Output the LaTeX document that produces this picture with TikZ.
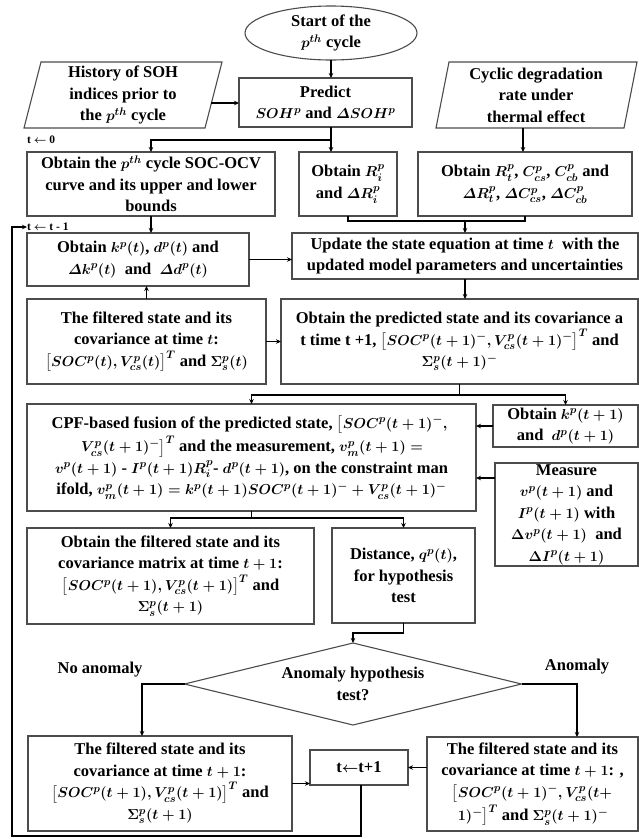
\documentclass[tikz,border=0pt]{standalone}
\usepackage{fontspec}
\setmainfont{Liberation Serif}
\usepackage{amsmath}
\usetikzlibrary{arrows.meta,shapes.geometric,calc}
\definecolor{bord}{gray}{0.3}
\DeclareMathSizes{16.5}{15.5}{10.5}{8}
\DeclareMathSizes{11.5}{11}{8}{6}
\newcommand\myfs{\fontsize{16.5}{21.5}\selectfont\bfseries\boldmath\lineskiplimit=2pt\lineskip=3pt\relax}
\newcommand\smallfs{\fontsize{11.5}{13}\selectfont\bfseries\boldmath}
\newcommand\dd{\varDelta}
\begin{document}
\begin{tikzpicture}[x=1pt,y=-1pt,
  every node/.style={font=\myfs},
  box/.style={draw=bord, line width=1.1pt, rectangle, inner sep=0pt, outer sep=0pt, align=center},
  txt/.style={inner sep=0pt, align=center},
  arr/.style={draw=black, line width=1.1pt, -{Stealth[length=5pt,width=4.5pt]}},
  ln/.style={draw=black, line width=1.1pt}]
\useasboundingbox (0,0) rectangle (639,839);

% top row
\node[box, ellipse, minimum width=172pt, minimum height=54pt] (start) at (331,33) {Start of the\\$p^{th}$ cycle};
\node[box, minimum width=173pt, minimum height=49pt] (predict) at (325.5,102.5) {Predict\\$SOH^p$ and $\dd SOH^p$};
\node[txt] (hist) at (123,95) {History of SOH\\indices prior to\\the $p^{th}$ cycle};
\draw[draw=bord, line width=1.1pt] (41,62) -- (222,62) -- (205,128) -- (24,128) -- cycle;
\coordinate (histE) at (211.4,103);
\node[txt] (cyc) at (536,95) {Cyclic degradation\\rate under\\thermal effect};
\draw[draw=bord, line width=1.1pt] (449,62) -- (637,62) -- (624,128) -- (436,128) -- cycle;
\coordinate (cycS) at (523,128);

% second row
\node[box, minimum width=248pt, minimum height=64pt] (soc) at (151,184) {Obtain the $p^{th}$ cycle SOC-OCV\\curve and its upper and lower\\bounds};
\node[box, minimum width=98pt, minimum height=64pt] (ri) at (348,184) {Obtain $R_i^p$\\and $\dd R_i^p$};
\node[box, minimum width=214pt, minimum height=64pt] (rt) at (525,184) {Obtain $R_t^p$, $C_{cs}^p$, $C_{cb}^p$ and\\$\dd R_t^p$, $\dd C_{cs}^p$, $\dd C_{cb}^p$};

\node[box, minimum width=346pt, minimum height=46pt] (upd) at (465,256) {Update the state equation at time $t$\ \ with the\\updated model parameters and uncertainties};
\node[box, minimum width=222pt, minimum height=53pt] (kb) at (138,259.5) {Obtain $k^p(t)$, $d^p(t)$ and\\$\dd k^p(t)$\ \ and\ \ $\dd d^p(t)$};

\node[box, minimum width=239pt, minimum height=85pt] (filt) at (146.5,341.5) {The filtered state and its\\covariance at time $t$:\\$\left[SOC^p(t), V_{cs}^p(t)\right]^T$ and $\Sigma_s^p(t)$};
\node[box, minimum width=357pt, minimum height=85pt] (pred) at (459.5,341.5) {Obtain the predicted state and its covariance a\\t time t +1, $\left[SOC^p(t+1)^-, V_{cs}^p(t+1)^-\right]^T$ and\\$\Sigma_s^p(t+1)^-$};

\node[box, minimum width=449pt, minimum height=107pt] (cpf) at (251.5,457.5) {CPF-based fusion of the predicted state, $\left[SOC^p(t+1)^-,\right.$\\$\left.V_{cs}^p(t+1)^-\right]^T$ and the measurement, $v_m^p(t+1) =$\\$v^p(t+1)$ - $I^p(t+1)R_i^p$- $d^p(t+1)$, on the constraint man\\ifold, $v_m^p(t+1) = k^p(t+1)SOC^p(t+1)^- + V_{cs}^p(t+1)^-$};
\node[box, minimum width=145pt, minimum height=42pt] (kt) at (565.5,426) {Obtain $k^p(t+1)$\\and\ \ $d^p(t+1)$};
\node[box, minimum width=143pt, minimum height=103pt] (meas) at (566.5,514.5) {Measure\\$v^p(t+1)$ and\\$I^p(t+1)$ with\\$\Delta v^p(t+1)$\ \ and\\$\Delta I^p(t+1)$};

\node[box, minimum width=287pt, minimum height=96pt] (obt) at (170.5,576) {Obtain the filtered state and its\\covariance matrix at time $t+1$:\\$\left[SOC^p(t+1), V_{cs}^p(t+1)\right]^T$ and\\$\Sigma_s^p(t+1)$};
\node[box, minimum width=143pt, minimum height=95pt] (dist) at (403.5,575.5) {Distance, $q^p(t)$,\\for hypothesis\\test};

\node[box, diamond, aspect=4.1, minimum width=337pt, minimum height=82pt] (dia) at (353,684) {Anomaly hypothesis\\test?};
\node[txt] (noan) at (100,670) {No anomaly};
\node[txt] (an) at (577,667) {Anomaly};

\node[box, minimum width=264pt, minimum height=95pt] (bl) at (160,783.5) {The filtered state and its\\covariance at time $t+1$:\\$\left[SOC^p(t+1), V_{cs}^p(t+1)\right]^T$ and\\$\Sigma_s^p(t+1)$};
\node[box, minimum width=98pt, minimum height=35pt] (tb) at (359,767.5) {t$\boldsymbol{\leftarrow}$t+1};
\node[box, minimum width=211pt, minimum height=94pt] (br) at (532.5,784) {The filtered state and its\\covariance at time $t+1$: ,\\$\left[SOC^p(t+1)^-, V_{cs}^p(t+\right.$\\$\left.1)^-\right]^T$ and $\Sigma_s^p(t+1)^-$};

% small labels
\node[txt, anchor=west, font=\smallfs] (t0) at (27,140) {t $\boldsymbol{\leftarrow}$ 0};
\node[txt, anchor=west, font=\smallfs] (tm) at (27,227) {t $\boldsymbol{\leftarrow}$ t - 1};

% connectors
\draw[arr] (start.south) -- (start.south |- predict.north);
\draw[arr] (histE) -- (histE -| predict.west);
\coordinate (pa) at (331,127);
\draw[arr] (pa) -- (pa |- ri.north);
\draw[arr] (331,140) -| (soc.north);
\draw[arr] (cycS) -- (cycS |- rt.north);
\coordinate (ju) at (465,221);
\draw[ln] (ri.south) |- (ju) -| (rt.south);
\draw[arr] (ju) -- (ju |- upd.north);
\draw[arr] (soc.south) -- (soc.south |- kb.north);
\draw[arr] (kb.east) -- (kb.east -| upd.west);
\draw[arr] (upd.south) -- (upd.south |- pred.north);
\draw[arr] (filt.north) -- (filt.north |- kb.south);
\draw[arr] (filt.east) -- (filt.east -| pred.west);
\coordinate (jp) at (459.5,395);
\draw[ln] (pred.south) -- (jp);
\draw[arr] (jp) -| (cpf.north);
\draw[arr] (jp) -| (kt.north);
\draw[arr] (kt.west) -- (kt.west -| cpf.east);
\coordinate (mw) at (495,478);
\draw[arr] (mw) -- (mw -| cpf.east);
\coordinate (jc) at (251.5,518);
\draw[ln] (cpf.south) -- (jc);
\draw[arr] (jc) -| (obt.north);
\draw[arr] (jc) -| (dist.north);
\coordinate (jd) at (403.5,633);
\draw[ln] (dist.south) -- (jd);
\draw[arr] (jd) -| (dia.north);
\coordinate (lb) at (142,684);
\draw[arr] (dia.west) -- (lb) -- (lb |- bl.north);
\coordinate (rb) at (577,684);
\draw[arr] (dia.east) -- (rb) -- (rb |- br.north);
\draw[arr] (bl.east) -- (bl.east -| tb.west);
\draw[arr] (br.west |- tb.east) -- (tb.east);
\coordinate (tbs) at (361,785);
\draw[arr] (tbs) -- (361,836) -- (12,836) -- (12,227) -- (tm.west);
\end{tikzpicture}
\end{document}
